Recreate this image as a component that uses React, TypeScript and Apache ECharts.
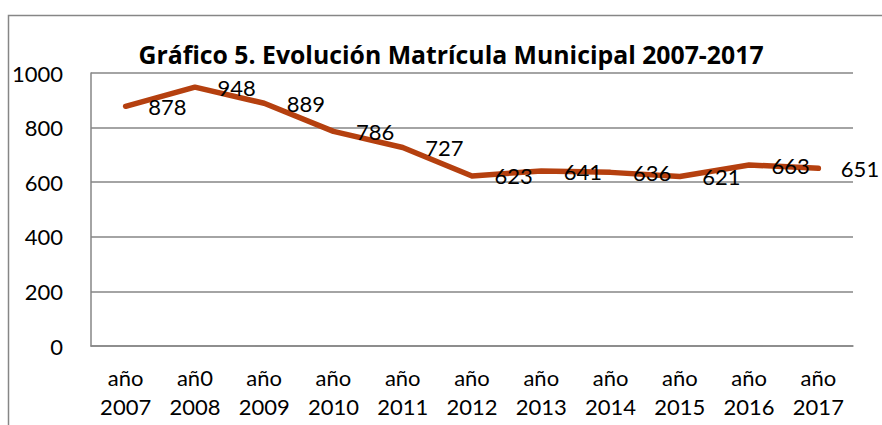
import React, { useEffect, useRef } from "react";
import * as echarts from "echarts";

const categories = ["año\n2007", "añ0\n2008", "año\n2009", "año\n2010", "año\n2011", "año\n2012", "año\n2013", "año\n2014", "año\n2015", "año\n2016", "año\n2017"];
const values = [878, 948, 889, 786, 727, 623, 641, 636, 621, 663, 651];
const titleText = "Gráfico 5. Evolución Matrícula Municipal 2007-2017";
const yMin = 0;
const yMax = 1000;
const yInterval = 200;

const FONT = "Lato";
const TITLE_FONT = "Open Sans";

export default function App() {
  const ref = useRef<HTMLDivElement>(null);
  useEffect(() => {
    if (!ref.current) return;
    const chart = echarts.init(ref.current, undefined, { renderer: "svg" });
    chart.setOption({
      animation: false,
      backgroundColor: "#ffffff",
      textStyle: { fontFamily: FONT },
      grid: { left: 91, right: 29, top: 73, bottom: 79, containLabel: false },
      graphic: [
        {
          type: "rect",
          shape: { x: 8.5, y: 15.5, width: 1000, height: 600 },
          style: { fill: "none", stroke: "#868686", lineWidth: 1.5 },
          silent: true,
        },
        {
          type: "text",
          x: 451,
          y: 54,
          style: {
            text: titleText,
            fontFamily: TITLE_FONT,
            fontWeight: "bold",
            fontSize: 24.8,
            fill: "#000000",
            textAlign: "center",
            textVerticalAlign: "middle",
          },
        },
      ],
      xAxis: {
        type: "category",
        data: categories,
        boundaryGap: true,
        axisLine: { show: true, lineStyle: { color: "#868686", width: 1.5 } },
        axisTick: { show: false },
        axisLabel: {
          color: "#000000",
          fontFamily: FONT,
          fontSize: 22,
          lineHeight: 29,
          margin: 17,
          interval: 0,
        },
      },
      yAxis: {
        type: "value",
        min: yMin,
        max: yMax,
        interval: yInterval,
        axisLine: { show: true, lineStyle: { color: "#868686", width: 1.5 } },
        axisTick: { show: false },
        splitLine: { show: true, lineStyle: { color: "#868686", width: 1.5 } },
        axisLabel: {
          color: "#000000",
          fontFamily: FONT,
          fontSize: 22,
          margin: 28,
          formatter: (v: number) => String(v),
        },
      },
      series: [
        {
          type: "line",
          data: values,
          symbol: "circle",
          symbolSize: 1,
          showSymbol: true,
          itemStyle: { color: "rgba(0,0,0,0)" },
          lineStyle: { color: "#B5400F", width: 5.5, join: "round", cap: "round" },
          label: {
            show: true,
            position: "right",
            distance: 22,
            color: "#000000",
            fontFamily: FONT,
            fontSize: 22,
          },
          emphasis: { disabled: true },
        },
      ],
    });
    return () => chart.dispose();
  }, []);
  return (
    <div
      ref={ref}
      style={{ position: "fixed", left: 0, top: 0, width: 882, height: 425 }}
    />
  );
}
